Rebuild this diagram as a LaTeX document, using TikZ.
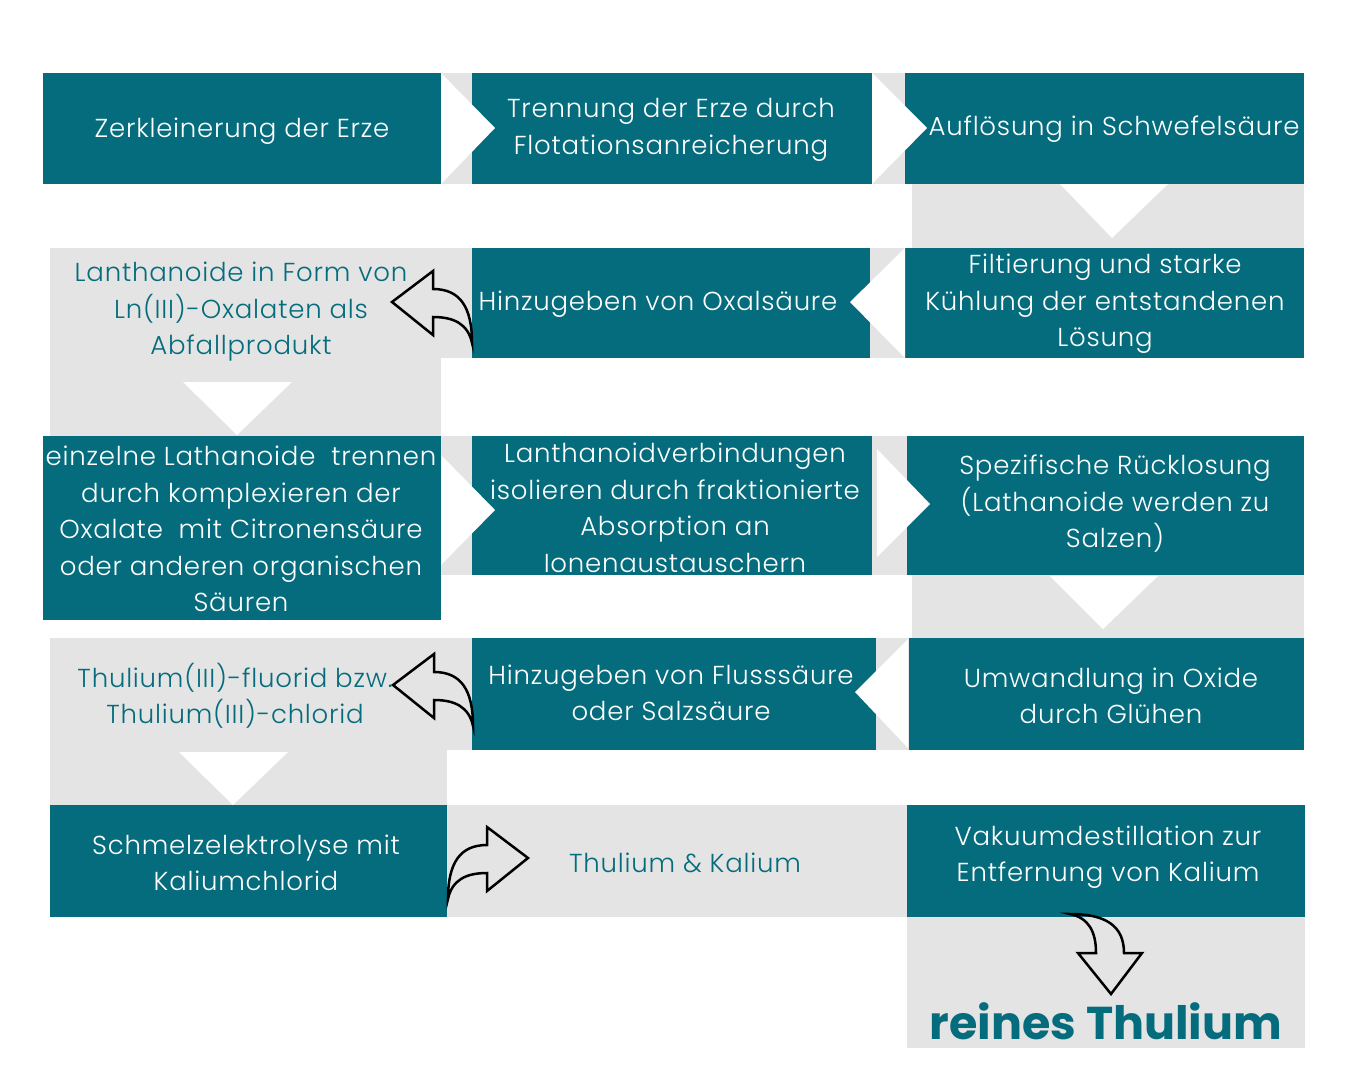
\documentclass[tikz,border=0pt]{standalone}
\usepackage{fontspec}
\setmainfont{Poppins}[UprightFont=* Light,BoldFont=* Bold,LetterSpace=3]
\definecolor{tealc}{HTML}{046C7C}
\definecolor{grayc}{HTML}{E4E4E4}
\begin{document}
\begin{tikzpicture}[x=1pt,y=-1pt,
  tealbox/.style={fill=tealc,draw=none,inner sep=0pt,anchor=north west},
  wtxt/.style={text=white,align=center,inner sep=0pt,font=\fontsize{26}{36.5}\selectfont},
  ttxt/.style={text=tealc,align=center,inner sep=0pt,font=\fontsize{26}{36.5}\selectfont},
  tri/.style={fill=white,draw=none},
  curvarrow/.pic={\draw[line width=2.5pt,line join=miter,fill=none]
     (0,0) -- (41,-31) -- (41,-13) .. controls (68,-13) and (80,5) .. (80,41)
     .. controls (76,22) and (62,15) .. (41,15) -- (41,33) -- cycle;}
]
\useasboundingbox (0,0) rectangle (1350,1080);
\fill[white] (0,0) rectangle (1350,1080);
% gray backgrounds
\fill[grayc] (441,73) rectangle (472,184);
\fill[grayc] (872,73) rectangle (905,184);
\fill[grayc] (912,184) rectangle (1304,248);
\fill[grayc] (50,248) rectangle (472,358);
\fill[grayc] (50,358) rectangle (441,436);
\fill[grayc] (870,248) rectangle (905,358);
\fill[grayc] (441,436) rectangle (472,575);
\fill[grayc] (872,436) rectangle (907,575);
\fill[grayc] (912,575) rectangle (1304,638);
\fill[grayc] (50,638) rectangle (472,750);
\fill[grayc] (50,750) rectangle (447,805);
\fill[grayc] (876,638) rectangle (909,750);
\fill[grayc] (447,805) rectangle (907,917);
\fill[grayc] (907,917) rectangle (1305,1048);
% teal boxes
\node[tealbox,minimum width=398,minimum height=111] (A) at (43,73) {};
\node[tealbox,minimum width=400,minimum height=111] (B) at (472,73) {};
\node[tealbox,minimum width=399,minimum height=111] (C) at (905,73) {};
\node[tealbox,minimum width=398,minimum height=110] (H) at (472,248) {};
\node[tealbox,minimum width=399,minimum height=110] (F) at (905,248) {};
\node[tealbox,minimum width=398,minimum height=184] (E) at (43,436) {};
\node[tealbox,minimum width=400,minimum height=139] (L) at (472,436) {};
\node[tealbox,minimum width=397,minimum height=139] (S) at (907,436) {};
\node[tealbox,minimum width=404,minimum height=112] (HF) at (472,638) {};
\node[tealbox,minimum width=395,minimum height=112] (U) at (909,638) {};
\node[tealbox,minimum width=397,minimum height=112] (SE) at (50,805) {};
\node[tealbox,minimum width=398,minimum height=112] (V) at (907,805) {};
% white triangles
\fill[tri] (441,73) -- (441,184) -- (495,128) -- cycle;
\fill[tri] (872,73) -- (872,184) -- (927,128) -- cycle;
\fill[tri] (1060,184) -- (1168,184) -- (1112,238) -- cycle;
\fill[tri] (905,248) -- (905,358) -- (850,302) -- cycle;
\fill[tri] (183,382) -- (292,382) -- (237,435) -- cycle;
\fill[tri] (441,455) -- (441,565) -- (495,510) -- cycle;
\fill[tri] (877,449) -- (877,557) -- (930,504) -- cycle;
\fill[tri] (1050,576) -- (1158,576) -- (1103,629) -- cycle;
\fill[tri] (908,639) -- (908,748) -- (855,692) -- cycle;
\fill[tri] (179,752) -- (288,752) -- (233,805) -- cycle;
% texts
\node[wtxt] (tA) at (242,131) {Zerkleinerung der Erze};
\node[wtxt] (tB) at (671,130) {Trennung der Erze durch\\Flotationsanreicherung};
\node[wtxt] (tC) at (1114,129) {Auflösung in Schwefelsäure};
\node[ttxt] (tLn) at (241,312) {Lanthanoide in Form von\\Ln(III)-Oxalaten als\\Abfallprodukt};
\node[wtxt] (tH) at (658,304) {Hinzugeben von Oxalsäure};
\node[wtxt] (tF) at (1105,304) {Filtierung und starke\\Kühlung der entstandenen\\Lösung};
\node[wtxt] (tE) at (241,529) {einzelne Lathanoide\ \ trennen\\durch komplexieren der\\Oxalate\ \ mit Citronensäure\\oder anderen organischen\\Säuren};
\node[wtxt] (tL) at (675,508) {Lanthanoidverbindungen\\isolieren durch fraktionierte\\Absorption an\\Ionenaustauschern};
\node[wtxt] (tS) at (1115,504) {Spezifische Rücklosung\\(Lathanoide werden zu\\Salzen)};
\node[ttxt] (tT) at (235,696) {Thulium(III)-fluorid bzw.\\Thulium(III)-chlorid};
\node[wtxt] (tHF) at (671,693) {Hinzugeben von Flusssäure\\oder Salzsäure};
\node[wtxt] (tU) at (1111,696) {Umwandlung in Oxide\\durch Glühen};
\node[wtxt] (tSE) at (246,863) {Schmelzelektrolyse mit\\Kaliumchlorid};
\node[ttxt] (tTK) at (685,863) {Thulium \& Kalium};
\node[wtxt] (tV) at (1108,857) {Vakuumdestillation zur\\Entfernung von Kalium};
\node[text=tealc,inner sep=0pt,font=\fontsize{46}{50}\selectfont\addfontfeatures{LetterSpace=0}\bfseries] (tR) at (1106,1021) {reines Thulium};
% curved outline arrows
\pic at (392,302) {curvarrow};
\pic at (393,685) {curvarrow};
\pic[xscale=-1] at (528,858) {curvarrow};
\draw[line width=2.5pt,line join=miter,shift={(1111,994)}]
  (0,0) -- (31,-41) -- (13,-41) .. controls (13,-68) and (-5,-80) .. (-41,-80)
  .. controls (-22,-76) and (-15,-62) .. (-15,-41) -- (-33,-41) -- cycle;
\end{tikzpicture}
\end{document}
